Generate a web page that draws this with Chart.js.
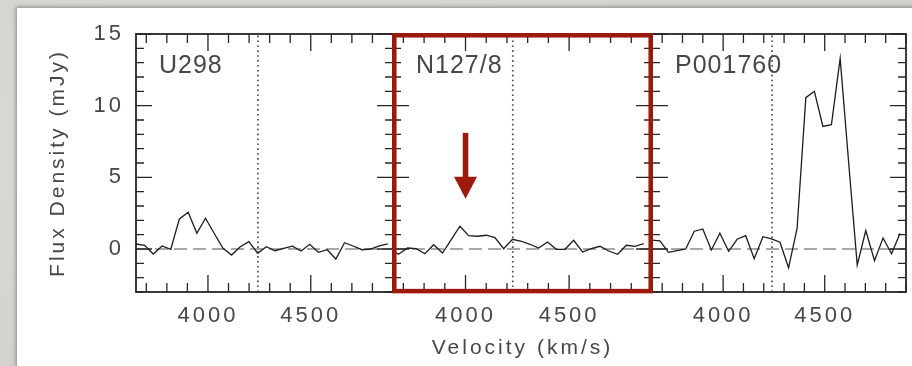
<!DOCTYPE html>
<html>
<head>
<meta charset="utf-8">
<script src="https://cdn.jsdelivr.net/npm/chart.js@4.4.0/dist/chart.umd.min.js"></script>
<style>
  html, body { margin: 0; padding: 0; }
  body { width: 912px; height: 366px; overflow: hidden; position: relative;
         background: radial-gradient(ellipse at 30% 40%, #dcdad6 0%, #d2d0cc 100%); }
  #card { position: absolute; left: 17px; top: 8px; width: 910px; height: 370px; background: #fff;
          box-shadow: -1px -1px 4px rgba(0,0,0,0.35); }
  canvas { position: absolute; top: 0; }
</style>
</head>
<body>
<div id="card"></div>
<canvas id="p1" width="400" height="366" style="left:0px"></canvas>
<canvas id="p2" width="273" height="366" style="left:386px; z-index:2"></canvas>
<canvas id="p3" width="267" height="366" style="left:645px"></canvas>
<script>
// axes
const velRange = [3650, 4900];
const fluxRange = [-3, 15];
const xTickLabels = [4000, 4500];
const yTickLabels = [0, 5, 10, 15];

// panels
const panelNames = ['U298', 'N127/8', 'P001760'];
const systemicVel = [4243, 4228, 4241];

const velU298 = [3650, 3692, 3734, 3777, 3819, 3861, 3904, 3946, 3988, 4030, 4073, 4115, 4157, 4199, 4242,
                 4284, 4326, 4368, 4411, 4453, 4495, 4537, 4580, 4622, 4664, 4706, 4749, 4791, 4833, 4875];
const fluxU298 = [0.35, 0.26, -0.35, 0.21, -0.02, 2.1, 2.57, 1.1, 2.15, 1.1, 0.05, -0.42, 0.16, 0.51, -0.3,
                  0.16, -0.12, 0.05, 0.2, -0.14, 0.33, -0.23, -0.05, -0.7, 0.44, 0.21, -0.05, 0.0, 0.21, 0.35];

const velN127 = [3635, 3677, 3720, 3762, 3804, 3846, 3889, 3931, 3973, 4015, 4058, 4100, 4142, 4184, 4227,
                 4269, 4311, 4353, 4396, 4438, 4480, 4522, 4565, 4607, 4649, 4691, 4734, 4776, 4818, 4860];
const fluxN127 = [0.02, -0.37, 0.07, 0.02, -0.33, 0.3, -0.28, 0.65, 1.59, 0.93, 0.89, 0.96, 0.8, 0.02, 0.68,
                  0.54, 0.33, 0.07, 0.49, -0.02, -0.02, 0.61, -0.21, 0.02, 0.19, -0.14, -0.37, 0.26, 0.19, 0.37];

const velP001760 = [3647, 3689, 3731, 3773, 3816, 3858, 3900, 3942, 3984, 4027, 4069, 4111, 4153, 4196, 4238,
                    4280, 4322, 4364, 4407, 4449, 4491, 4533, 4576, 4618, 4660, 4702, 4745, 4787, 4829, 4871];
const fluxP001760 = [0.63, 0.56, -0.23, -0.12, 0.0, 1.24, 1.4, -0.07, 1.1, -0.16, 0.68, 0.93, -0.68, 0.86, 0.7,
                     0.47, -1.31, 1.43, 10.56, 11.0, 8.55, 8.67, 13.3, 6.0, -1.12, 1.29, -0.82, 0.77, -0.33, 1.1];

// arrow pointing at the faint line in the middle panel
const arrowMark = { vel: 4000, from: 8.1, to: 3.5 };

const FONT = '"Liberation Sans", Arial, sans-serif';
const TXT = '#474747';
const RED = '#9c1a0d';

// IDL-style wide lettering
const spacing = {
    id: 'spacing',
    beforeLayout(c) { c.ctx.letterSpacing = '3px'; },
    beforeDraw(c) { c.ctx.letterSpacing = '3px'; }
};

// box + inward ticks on all four sides
const frameTicks = {
    id: 'frameTicks',
    afterDatasetsDraw(chart) {
        const { ctx, chartArea: a, scales: { x, y } } = chart;
        ctx.save();
        ctx.strokeStyle = '#262626';
        ctx.lineWidth = 1.3;
        ctx.beginPath();
        for (let v = Math.ceil(x.min / 100) * 100; v <= x.max; v += 100) {
            const px = x.getPixelForValue(v);
            const len = v % 500 === 0 ? 17 : 9;
            ctx.moveTo(px, a.top); ctx.lineTo(px, a.top + len);
            ctx.moveTo(px, a.bottom); ctx.lineTo(px, a.bottom - len);
        }
        for (let v = Math.ceil(y.min); v <= y.max; v++) {
            const py = y.getPixelForValue(v);
            const len = v % 5 === 0 ? 16 : 8;
            ctx.moveTo(a.left, py); ctx.lineTo(a.left + len, py);
            ctx.moveTo(a.right, py); ctx.lineTo(a.right - len, py);
        }
        ctx.stroke();
        ctx.lineWidth = 1.8;
        ctx.strokeRect(a.left, a.top, a.width, a.height);
        ctx.restore();
    }
};

// panel name in the upper left corner
const panelLabel = {
    id: 'panelLabel',
    afterDraw(chart, args, opts) {
        const { ctx, chartArea: a } = chart;
        ctx.save();
        ctx.letterSpacing = '1px';
        ctx.font = '25px ' + FONT;
        ctx.fillStyle = TXT;
        ctx.textBaseline = 'alphabetic';
        ctx.fillText(opts.text, a.left + 23, a.top + 39);
        ctx.restore();
    }
};

// red highlight box and arrow (middle panel only)
const highlight = {
    id: 'highlight',
    afterDraw(chart) {
        const { ctx, chartArea: a, scales: { x, y } } = chart;
        ctx.save();
        ctx.strokeStyle = RED;
        ctx.lineWidth = 4.5;
        ctx.strokeRect(a.left + 1.3, a.top + 1.3, a.width - 2.6, a.height - 2.2);
        const ax = x.getPixelForValue(arrowMark.vel);
        const y0 = y.getPixelForValue(arrowMark.from);
        const y1 = y.getPixelForValue(arrowMark.to);
        const head = 22;
        ctx.fillStyle = RED;
        ctx.fillRect(ax - 2.8, y0, 5.6, y1 - y0 - head + 2);
        ctx.beginPath();
        ctx.moveTo(ax - 11.5, y1 - head);
        ctx.lineTo(ax + 11.5, y1 - head);
        ctx.lineTo(ax, y1);
        ctx.closePath();
        ctx.fill();
        ctx.restore();
    }
};

function makePanel(id, i, vel, flux, pad) {
    const first = i === 0;
    const mid = i === 1;
    const plugins = [spacing, frameTicks, panelLabel];
    if (mid) plugins.push(highlight);
    return new Chart(document.getElementById(id), {
        type: 'line',
        data: {
            datasets: [
                { data: vel.map((v, k) => ({ x: v, y: flux[k] })), borderColor: '#1c1c1c', borderWidth: 1.3 },
                { data: fluxRange.map(f => ({ x: systemicVel[i], y: f })), borderColor: '#4a4a4a',
                  borderWidth: 1.7, borderDash: [1.6, 3.3] },
                { data: velRange.map(v => ({ x: v, y: 0 })), borderColor: '#8c8c8c',
                  borderWidth: 1.6, borderDash: [13, 6] }
            ]
        },
        options: {
            responsive: false,
            animation: false,
            elements: { point: { radius: 0 }, line: { tension: 0 } },
            layout: { padding: { top: 34, bottom: 0, left: pad[0], right: pad[1] } },
            plugins: {
                legend: { display: false },
                tooltip: { enabled: false },
                panelLabel: { text: panelNames[i] }
            },
            scales: {
                x: {
                    type: 'linear', min: velRange[0], max: velRange[1],
                    grid: { display: false }, border: { display: false },
                    afterBuildTicks: s => { s.ticks = xTickLabels.map(v => ({ value: v })); },
                    afterFit: s => { s.height = 74; },
                    ticks: { color: TXT, font: { family: FONT, size: 22 }, padding: 3,
                             maxRotation: 0, autoSkip: false, callback: v => String(v) },
                    title: { display: mid, text: 'Velocity (km/s)', color: TXT,
                             font: { family: FONT, size: 21 }, padding: { top: 0, bottom: 5 } }
                },
                y: {
                    display: first, min: fluxRange[0], max: fluxRange[1],
                    grid: { display: false }, border: { display: false },
                    afterBuildTicks: s => { s.ticks = yTickLabels.map(v => ({ value: v })); },
                    afterFit: s => { s.width = first ? 136 : 0; },
                    ticks: { color: TXT, font: { family: FONT, size: 22 }, padding: 4, callback: v => String(v) },
                    title: { display: true, text: 'Flux Density (mJy)', color: TXT,
                             font: { family: FONT, size: 21 }, padding: { top: 46, bottom: 0 } }
                }
            }
        },
        plugins: plugins
    });
}

makePanel('p1', 0, velU298, fluxU298, [0, 7]);
makePanel('p2', 1, velN127, fluxN127, [7, 7]);
makePanel('p3', 2, velP001760, fluxP001760, [7, 6]);
</script>
</body>
</html>
